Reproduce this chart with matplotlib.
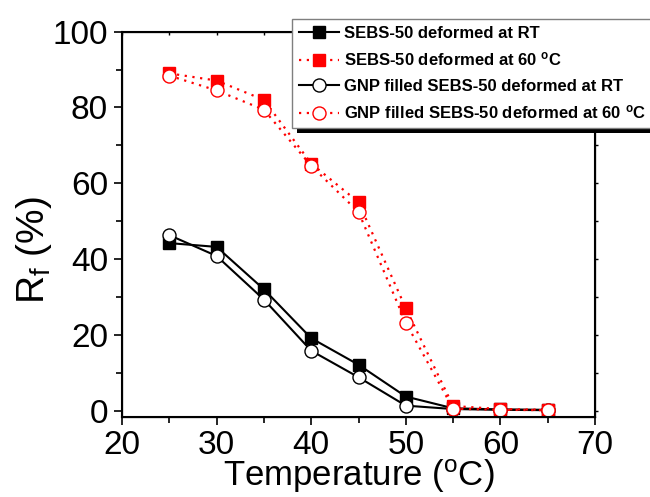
import matplotlib
matplotlib.use("Agg")
import matplotlib.pyplot as plt
from matplotlib.patches import Rectangle
from matplotlib.ticker import MultipleLocator

plt.rcParams['font.family'] = ['Liberation Sans', 'DejaVu Sans']
plt.rcParams['mathtext.fontset'] = 'custom'
plt.rcParams['mathtext.rm'] = 'Liberation Sans'
plt.rcParams['mathtext.it'] = 'Liberation Sans'
plt.rcParams['mathtext.bf'] = 'Liberation Sans:bold'

temperature = [25, 30, 35, 40, 45, 50, 55, 60, 65]
sebs_rt = [44.2, 43.2, 32.0, 19.1, 12.1, 3.7, 0.6, 0.3, 0.2]
sebs_60 = [89.0, 87.1, 82.0, 65.2, 55.0, 27.0, 1.2, 0.4, 0.2]
gnp_rt = [46.3, 40.8, 29.3, 15.8, 8.8, 1.3, 0.4, 0.2, 0.1]
gnp_60 = [88.4, 84.5, 79.4, 64.6, 52.4, 23.2, 0.5, 0.2, 0.1]

labels = ["SEBS-50 deformed at RT",
          "SEBS-50 deformed at 60 $^\\mathbf{o}$C",
          "GNP filled SEBS-50 deformed at RT",
          "GNP filled SEBS-50 deformed at 60 $^\\mathbf{o}$C"]

fig = plt.figure(figsize=(6.5, 4.97), dpi=100)
ax = fig.add_axes([122/650, 1-417/497, (595-122)/650, (417-31.7)/497])

dot = (0, (1, 2.5))
h1, = ax.plot(temperature, sebs_rt, '-', color='black', lw=1.5, marker='s',
              ms=8.4, mfc='black', mec='black', mew=1.0)
h3, = ax.plot(temperature, gnp_rt, '-', color='black', lw=1.5, marker='o',
              ms=9.4, mfc='white', mec='black', mew=1.0)
h2, = ax.plot(temperature, sebs_60, linestyle=dot, color='red', lw=1.6, marker='s',
              ms=8.4, mfc='red', mec='red', mew=1.0)
h4, = ax.plot(temperature, gnp_60, linestyle=dot, color='red', lw=1.6, marker='o',
              ms=9.4, mfc='white', mec='red', mew=1.0)

ax.set_xlim(20, 70)
ax.set_ylim(-1.7, 100)
ax.xaxis.set_major_locator(MultipleLocator(10))
ax.xaxis.set_minor_locator(MultipleLocator(5))
ax.yaxis.set_major_locator(MultipleLocator(20))
ax.yaxis.set_minor_locator(MultipleLocator(10))

ax.tick_params(axis='both', which='major', direction='out', length=6, width=1.2,
               labelsize=24, pad=4)
ax.tick_params(axis='x', which='major', pad=3)
ax.tick_params(axis='both', which='minor', direction='out', length=4, width=1.2)
for s in ax.spines.values():
    s.set_linewidth(1.5)

ax2 = ax.twinx()
ax2.set_ylim(ax.get_ylim())
ax2.yaxis.set_major_locator(MultipleLocator(10))
ax2.tick_params(axis='y', which='major', direction='out', length=2, width=1, labelright=False)
ax3 = ax.twiny()
ax3.set_xlim(ax.get_xlim())
ax3.xaxis.set_major_locator(MultipleLocator(5))
ax3.tick_params(axis='x', which='major', direction='in', length=2, width=1, labeltop=False)

ax.set_xlabel("Temperature ($^\\mathrm{o}$C)", fontsize=25)
ax.xaxis.set_label_coords(0.5, -0.106)
ax.set_ylabel("R$_\\mathrm{f}$ (%)", fontsize=28)
ax.yaxis.set_label_coords(-0.143, 0.433)

leg = fig.legend([h1, h2, h3, h4], labels, loc='upper left',
                 bbox_to_anchor=(292/650, 1-19/497), borderaxespad=0,
                 fancybox=False, frameon=True, edgecolor='#7f7f7f',
                 prop={'family': ['Liberation Sans', 'DejaVu Sans'], 'weight': 'bold', 'size': 12},
                 handlelength=2.4, handletextpad=0.3, labelspacing=0.6,
                 borderpad=0.4, framealpha=1)
leg.get_frame().set_linewidth(1.0)

fig.canvas.draw()
bb = leg.get_window_extent()
shadow = Rectangle((bb.x0 + 5, bb.y0 - 5), bb.width, bb.height, transform=None,
                   facecolor='black', edgecolor='none', zorder=4.5)
fig.patches.append(shadow)
shadow.set_figure(fig)

fig.savefig("out.png", dpi=100)
